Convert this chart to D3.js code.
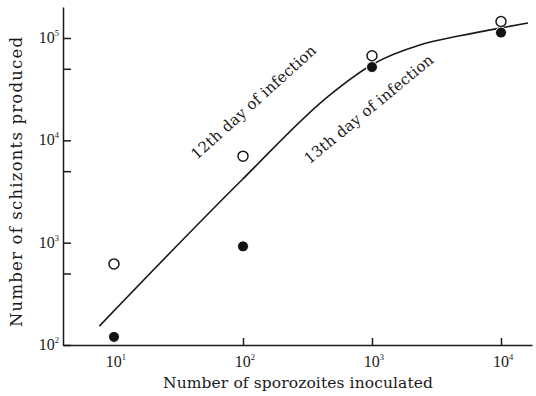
<!DOCTYPE html>
<html>
<head>
<meta charset="utf-8">
<script src="https://cdn.jsdelivr.net/npm/d3@7"></script>
<style>
  html, body { margin: 0; padding: 0; background: #fff; }
  svg { display: block; }
  text { font-family: "DejaVu Serif", "Liberation Serif", serif; fill: #1a1a1a; }
  .tick-label { font-family: "Liberation Serif", serif; }
</style>
</head>
<body>
<svg id="chart" width="536" height="396"></svg>
<script>
// values
const sporozoites = [10, 100, 1000, 10000];
const day12 = [620, 7000, 67000, 145000];   // open circles
const day13 = [120, 920, 52000, 113000];    // filled circles
// hand drawn fitted curve (x, y)
const curveX = [7.7, 98, 470, 1020, 2350, 4800, 9800, 16200];
const curveY = [153, 4100, 27700, 55700, 85500, 105000, 125000, 140000];
const yMajor = [100, 1000, 10000, 100000];
const yMinor = [500, 5000, 50000];
const xMajor = [10, 100, 1000, 10000];
const xTicks = [100, 1000, 10000];

const svg = d3.select('#chart');

const x = d3.scaleLog()
  .domain([Math.pow(10, 0.6047), Math.pow(10, 4.2403)])
  .range([63, 532]);
const y = d3.scaleLog()
  .domain([100, Math.pow(10, 5.303)])
  .range([345, 7]);

// axes, ticks pointing inward
const yAxis = d3.axisLeft(y)
  .tickValues(yMajor.concat(yMinor))
  .tickSizeInner(-8)
  .tickSizeOuter(0)
  .tickFormat('');
const xAxis = d3.axisBottom(x)
  .tickValues(xTicks)
  .tickSizeInner(-7)
  .tickSizeOuter(0)
  .tickFormat('');

const gy = svg.append('g').attr('transform', 'translate(63,0)').call(yAxis);
const gx = svg.append('g').attr('transform', 'translate(0,345)').call(xAxis);
[gx, gy].forEach(g => {
  g.selectAll('path, line').attr('stroke', '#1a1a1a').attr('stroke-width', 1.5);
});

// tick labels with superscript exponents
function powLabel(sel) {
  sel.each(function (d) {
    const t = d3.select(this);
    t.append('tspan').text('10');
    t.append('tspan').attr('dy', -7).attr('font-size', 8.5).text(Math.round(Math.log10(d)));
  });
}

svg.append('g').selectAll('text')
  .data(yMajor)
  .enter().append('text')
  .attr('class', 'tick-label')
  .attr('x', 59)
  .attr('y', d => y(d) + 5)
  .attr('text-anchor', 'end')
  .attr('font-size', 16)
  .call(powLabel);

svg.append('g').selectAll('text')
  .data(xMajor)
  .enter().append('text')
  .attr('class', 'tick-label')
  .attr('x', d => x(d) + 2)
  .attr('y', 367)
  .attr('text-anchor', 'middle')
  .attr('font-size', 16)
  .call(powLabel);

// axis titles
svg.append('text')
  .attr('x', 298)
  .attr('y', 388)
  .attr('text-anchor', 'middle')
  .attr('font-size', 15.5)
  .attr('textLength', 270)
  .text('Number of sporozoites inoculated');

svg.append('text')
  .attr('transform', 'translate(22,182) rotate(-90)')
  .attr('text-anchor', 'middle')
  .attr('font-size', 16.5)
  .attr('textLength', 290)
  .text('Number of schizonts produced');

// fitted curve
const line = d3.line()
  .x(d => x(d[0]))
  .y(d => y(d[1]))
  .curve(d3.curveMonotoneX);
svg.append('path')
  .datum(curveX.map((v, i) => [v, curveY[i]]))
  .attr('d', line)
  .attr('fill', 'none')
  .attr('stroke', '#1a1a1a')
  .attr('stroke-width', 1.6);

// data points
svg.append('g').selectAll('circle')
  .data(sporozoites.map((v, i) => [v, day13[i]]))
  .enter().append('circle')
  .attr('cx', d => x(d[0]))
  .attr('cy', d => y(d[1]))
  .attr('r', 5.5)
  .attr('fill', '#111')
  .attr('stroke', '#fff')
  .attr('stroke-width', 1);

svg.append('g').selectAll('circle')
  .data(sporozoites.map((v, i) => [v, day12[i]]))
  .enter().append('circle')
  .attr('cx', d => x(d[0]))
  .attr('cy', d => y(d[1]))
  .attr('r', 5)
  .attr('fill', '#fff')
  .attr('stroke', '#1a1a1a')
  .attr('stroke-width', 1.5);

// curve annotations
svg.append('text')
  .attr('transform', 'translate(257,106) rotate(-42)')
  .attr('text-anchor', 'middle')
  .attr('font-size', 15)
  .attr('textLength', 162)
  .text('12th day of infection');

svg.append('text')
  .attr('transform', 'translate(372,113) rotate(-39.5)')
  .attr('text-anchor', 'middle')
  .attr('font-size', 15)
  .attr('textLength', 162)
  .text('13th day of infection');
</script>
</body>
</html>
